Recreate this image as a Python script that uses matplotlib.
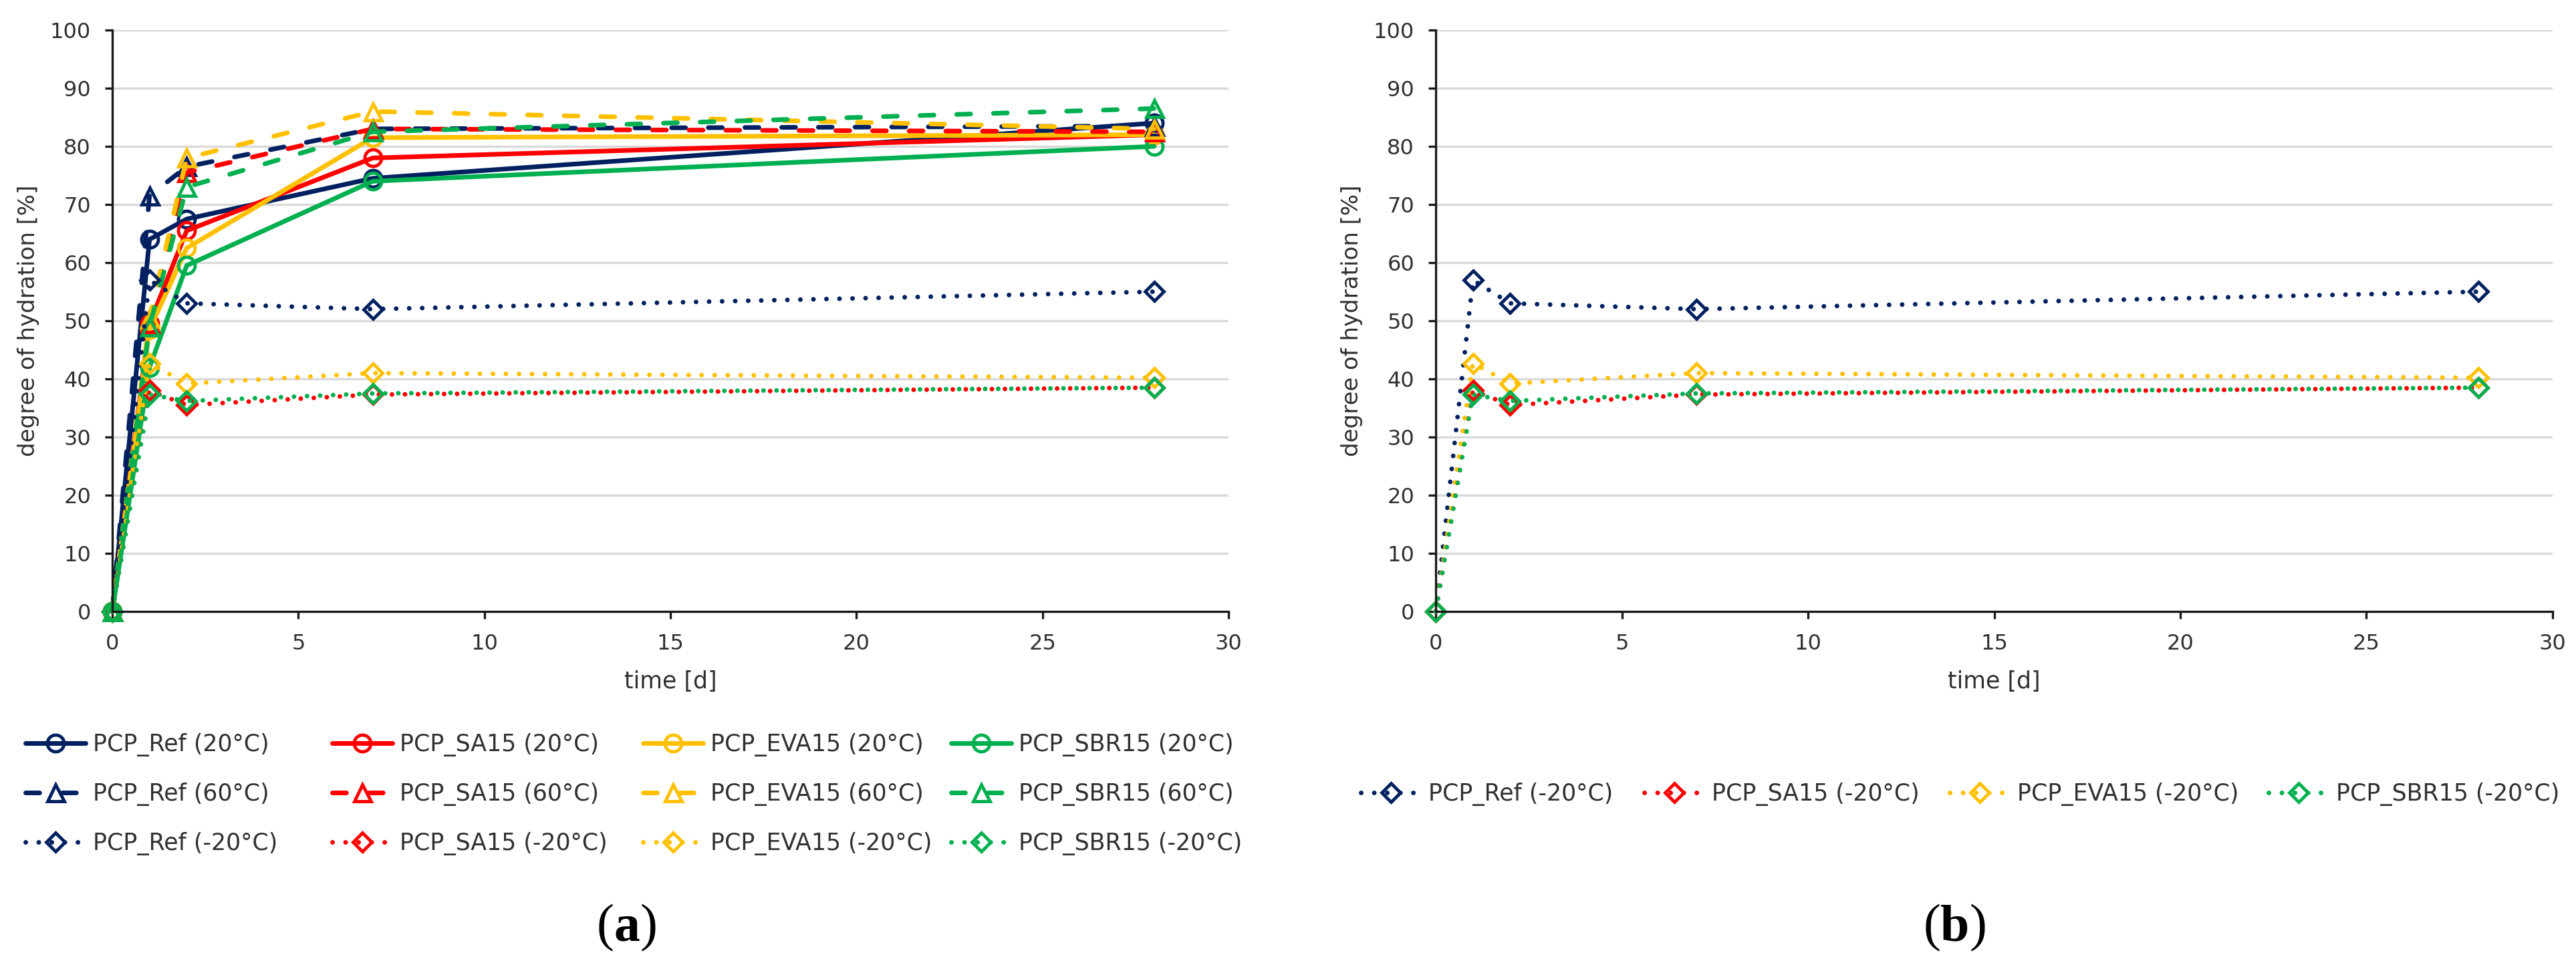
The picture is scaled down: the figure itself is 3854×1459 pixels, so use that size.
import matplotlib
matplotlib.use('Agg')
import matplotlib.pyplot as plt
from matplotlib.ticker import MultipleLocator

plt.rcParams['font.family'] = ['DejaVu Sans']

# ---------------- data ----------------
time_d = [0, 1, 2, 7, 28]
mixes = ['PCP_Ref', 'PCP_SA15', 'PCP_EVA15', 'PCP_SBR15']
temps = ['20°C', '60°C', '-20°C']

ref_20 = [0, 64.0, 67.5, 74.5, 84.0]
sa15_20 = [0, 49.5, 65.5, 78.0, 82.0]
eva15_20 = [0, 48.5, 62.5, 81.5, 82.0]
sbr15_20 = [0, 42.0, 59.5, 74.0, 80.0]

ref_60 = [0, 71.5, 76.5, 83.0, 83.5]
sa15_60 = [0, 49.5, 75.5, 83.0, 82.5]
eva15_60 = [0, 50.5, 78.0, 86.0, 83.0]
sbr15_60 = [0, 49.0, 73.0, 82.5, 86.5]

ref_m20 = [0, 57.0, 53.0, 52.0, 55.0]
sa15_m20 = [0, 38.0, 35.5, 37.3, 38.5]
eva15_m20 = [0, 42.7, 39.2, 41.0, 40.2]
sbr15_m20 = [0, 37.3, 36.2, 37.5, 38.5]

series = {
    '20°C': [ref_20, sa15_20, eva15_20, sbr15_20],
    '60°C': [ref_60, sa15_60, eva15_60, sbr15_60],
    '-20°C': [ref_m20, sa15_m20, eva15_m20, sbr15_m20],
}

# ---------------- styles ----------------
colors = ['#002060', '#FF0000', '#FFC000', '#00B050']
line_styles = {'20°C': '-', '60°C': (0, (3.0, 4.9)), '-20°C': (0, (0.01, 2.8))}
markers = {'20°C': 'o', '60°C': '^', '-20°C': 'D'}
msizes = {'20°C': 18, '60°C': 18, '-20°C': 14}
LW = 5
TXT = '#303030'

W, H = 3855, 1459
fig = plt.figure(figsize=(W / 100, H / 100), dpi=100)
ax_a = fig.add_axes([168 / W, (H - 915) / H, 1670 / W, 870 / H])
ax_b = fig.add_axes([2148 / W, (H - 915) / H, 1671 / W, 870 / H])


def style_axes(ax):
    ax.set_xlim(0, 30)
    ax.set_ylim(0, 100)
    ax.xaxis.set_major_locator(MultipleLocator(5))
    ax.yaxis.set_major_locator(MultipleLocator(10))
    ax.grid(axis='y', color='#D9D9D9', lw=2.4)
    ax.set_axisbelow(True)
    for s in ['top', 'right']:
        ax.spines[s].set_visible(False)
    for s in ['left', 'bottom']:
        ax.spines[s].set_linewidth(2.4)
        ax.spines[s].set_color('#1a1a1a')
    ax.tick_params(axis='both', direction='out', length=8, width=2.4,
                   labelsize=23, labelcolor=TXT, color='#1a1a1a')
    ax.tick_params(axis='y', pad=15)
    ax.tick_params(axis='x', pad=16)
    ax.set_xlabel('time [d]', fontsize=25, color=TXT)
    ax.xaxis.set_label_coords(0.5, -0.1207)
    ax.xaxis.label.set_va('center')
    ax.set_ylabel('degree of hydration [%]', fontsize=24.5, color=TXT)
    ax.yaxis.set_label_coords(-0.075, 0.5)
    ax.yaxis.label.set_va('center')


def draw(ax, temp, mix_idx):
    vals = series[temp][mix_idx]
    c = colors[mix_idx]
    ln, = ax.plot(time_d, vals, color=c, lw=LW, ls=line_styles[temp],
                  marker=markers[temp], ms=msizes[temp], mfc='none', mec=c,
                  mew=3.5, clip_on=False, dash_capstyle='round',
                  solid_capstyle='round', solid_joinstyle='round')
    return ln


style_axes(ax_a)
style_axes(ax_b)

lines_a = {}
for temp in temps:
    for i in range(4):
        lines_a[(temp, i)] = draw(ax_a, temp, i)

lines_b = {}
for i in range(4):
    lines_b[i] = draw(ax_b, '-20°C', i)

# ---------------- legends ----------------
leg_kw = dict(loc='center left', frameon=False, borderpad=0, borderaxespad=0,
              handlelength=2.6, handletextpad=0.3, fontsize=25, numpoints=1,
              labelcolor=TXT)

col_x_a = [38, 497, 962, 1423]
row_y_a = [1115, 1189, 1263]
for r, temp in enumerate(temps):
    for i in range(4):
        fig.legend([lines_a[(temp, i)]], [f'{mixes[i]} ({temp})'],
                   bbox_to_anchor=(col_x_a[i] / W, (H - row_y_a[r]) / H),
                   **leg_kw)

col_x_b = [2036, 2460, 2917, 3394]
for i in range(4):
    fig.legend([lines_b[i]], [f'{mixes[i]} (-20°C)'],
               bbox_to_anchor=(col_x_b[i] / W, (H - 1189) / H), **leg_kw)

# ---------------- panel labels ----------------
fig.canvas.draw()
renderer = fig.canvas.get_renderer()


def panel_label(xc_px, baseline_px, letter):
    parts = [('(', 'normal'), (letter, 'bold'), (')', 'normal')]
    texts, widths = [], []
    for s, w in parts:
        t = fig.text(0, (H - baseline_px) / H, s, fontsize=56,
                     family='Liberation Serif', fontweight=w,
                     va='baseline', ha='left', color='black')
        widths.append(t.get_window_extent(renderer).width)
        texts.append(t)
    x0 = xc_px - sum(widths) / 2
    for t, w in zip(texts, widths):
        t.set_x(x0 / W)
        x0 += w


panel_label(938, 1407, 'a')
panel_label(2925, 1407, 'b')

fig.savefig('out.png', dpi=100)
